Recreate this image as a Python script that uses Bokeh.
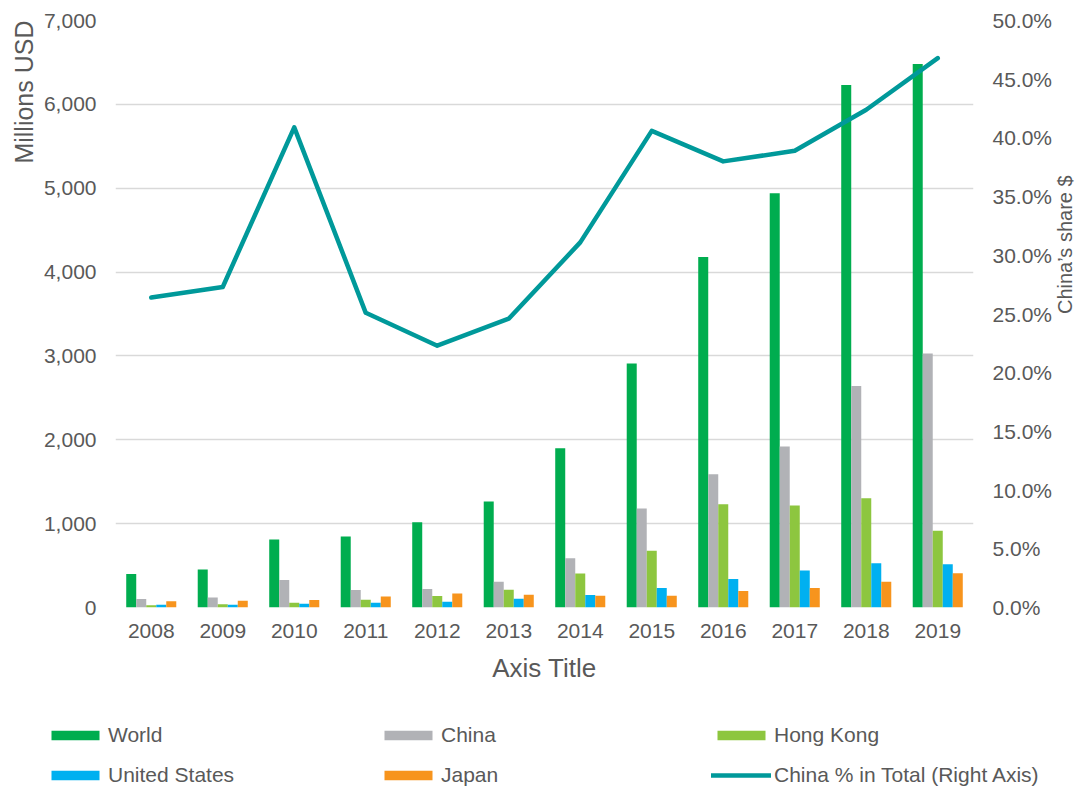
import math
from bokeh.plotting import figure
from bokeh.models import (ColumnDataSource, Range1d, LinearAxis, NumeralTickFormatter,
                          Legend, LegendItem, FactorRange, Title)
from bokeh.transform import dodge
from bokeh.embed import file_html
from bokeh.resources import INLINE

years = ["2008", "2009", "2010", "2011", "2012", "2013", "2014", "2015", "2016", "2017", "2018", "2019"]
world = [400, 452, 812, 848, 1016, 1264, 1900, 2910, 4180, 4940, 6230, 6480]
china = [100, 120, 328, 208, 220, 308, 588, 1180, 1590, 1920, 2640, 3030]
hong_kong = [28, 40, 56, 92, 136, 212, 404, 676, 1232, 1216, 1304, 916]
united_states = [32, 32, 44, 56, 68, 104, 148, 232, 340, 440, 528, 516]
japan = [76, 80, 88, 132, 168, 152, 140, 140, 196, 232, 308, 408]
china_share = [0.264, 0.273, 0.409, 0.251, 0.223, 0.246, 0.311, 0.406, 0.380, 0.389, 0.424, 0.468]

src = ColumnDataSource(dict(year=years, world=world, china=china, hk=hong_kong,
                            us=united_states, japan=japan, share=china_share))

FONT = "Liberation Sans"
GRAY = "#595959"
LINE_COLOR = "#00999A"

series = [("world", "World", "#00AD4F", -0.28), ("china", "China", "#B1B2B6", -0.14),
          ("hk", "Hong Kong", "#8DC63F", 0.0), ("us", "United States", "#00B0F0", 0.14),
          ("japan", "Japan", "#F7941D", 0.28)]
bw = 0.14

p = figure(width=1090, height=690, x_range=FactorRange(*years), y_range=Range1d(0, 7000),
           output_backend="svg", toolbar_location=None,
           min_border_left=115, min_border_right=117, min_border_top=20, min_border_bottom=83)
p.outline_line_color = None
p.extra_y_ranges = {"pct": Range1d(0, 0.5)}

for col, name, color, off in series:
    p.vbar(x=dodge("year", off, range=p.x_range), top=col, width=bw, bottom=0,
           source=src, fill_color=color, line_color=None)

p.line(x="year", y="share", source=src, y_range_name="pct", line_color=LINE_COLOR,
       line_width=4.5, line_cap="round", line_join="round")

p.yaxis.formatter = NumeralTickFormatter(format="0,0")
p.yaxis.ticker = [0, 1000, 2000, 3000, 4000, 5000, 6000, 7000]
p.yaxis.major_label_standoff = 19

p.xaxis.axis_label = "Axis Title"
p.xaxis.axis_label_text_font_size = "26px"
p.xaxis.axis_label_standoff = 12
p.xaxis.major_label_standoff = 16

ry = LinearAxis(y_range_name="pct", formatter=NumeralTickFormatter(format="0.0%"),
                ticker=[0, 0.05, 0.1, 0.15, 0.2, 0.25, 0.3, 0.35, 0.4, 0.45, 0.5],
                axis_label="China\u2019s share $")
ry.axis_label_text_font_size = "20px"
ry.axis_label_standoff = 10
ry.major_label_standoff = 19
ry.axis_label_orientation = math.pi / 2
p.add_layout(ry, "right")

for ax in [p.xaxis[0], p.yaxis[0], ry]:
    ax.axis_line_color = None
    ax.major_tick_line_color = None
    ax.minor_tick_line_color = None
    ax.major_tick_out = 0
    ax.major_tick_in = 0
    ax.minor_tick_out = 0
    ax.minor_tick_in = 0
    ax.major_label_text_font = FONT
    ax.major_label_text_font_size = "21px"
    ax.major_label_text_color = GRAY
    ax.axis_label_text_font = FONT
    ax.axis_label_text_color = GRAY
    ax.axis_label_text_font_style = "normal"

ytitle = Title(text="Millions USD", align="right", text_font=FONT, text_font_size="25px",
               text_color=GRAY, text_font_style="normal", standoff=6)
p.add_layout(ytitle, "left")

p.xgrid.grid_line_color = None
p.ygrid.grid_line_color = "#D9D9D9"
p.ygrid.grid_line_width = 1.3

# legend-only figure (separate root) below the chart; its proxy glyphs sit outside its view
lg = figure(width=1090, height=98, x_range=FactorRange(*years), y_range=Range1d(0, 7000),
            output_backend="svg", toolbar_location=None, min_border=0,
            x_axis_location=None, y_axis_location=None)
lg.outline_line_color = None
lg.xgrid.grid_line_color = None
lg.ygrid.grid_line_color = None
lg.extra_y_ranges = {"pct": Range1d(0, 0.5)}
lr = {}
for col, name, color, off in series:
    lr[name] = lg.vbar(x=dodge("year", 100 + off, range=lg.x_range), top=col, width=bw, bottom=0,
                       source=src, fill_color=color, line_color=None)
lr["line"] = lg.line(x=dodge("year", 100, range=lg.x_range), y="share", source=src,
                     y_range_name="pct", line_color=LINE_COLOR, line_width=4.5, line_cap="round")

items = [LegendItem(label="World", renderers=[lr["World"]]),
         LegendItem(label="United States", renderers=[lr["United States"]]),
         LegendItem(label="China", renderers=[lr["China"]]),
         LegendItem(label="Japan", renderers=[lr["Japan"]]),
         LegendItem(label="Hong Kong", renderers=[lr["Hong Kong"]]),
         LegendItem(label="China % in Total (Right Axis)", renderers=[lr["line"]])]
leg = Legend(items=items, ncols=3, location=(45, 1), padding=0, margin=0,
             border_line_color=None, background_fill_alpha=0,
             glyph_width=60, glyph_height=12, label_height=24, label_width=254,
             label_standoff=3, spacing=16,
             label_text_font=FONT, label_text_font_size="21px", label_text_color=GRAY)
lg.add_layout(leg, "center")

open("out.html", "w").write(file_html([p, lg], INLINE))
